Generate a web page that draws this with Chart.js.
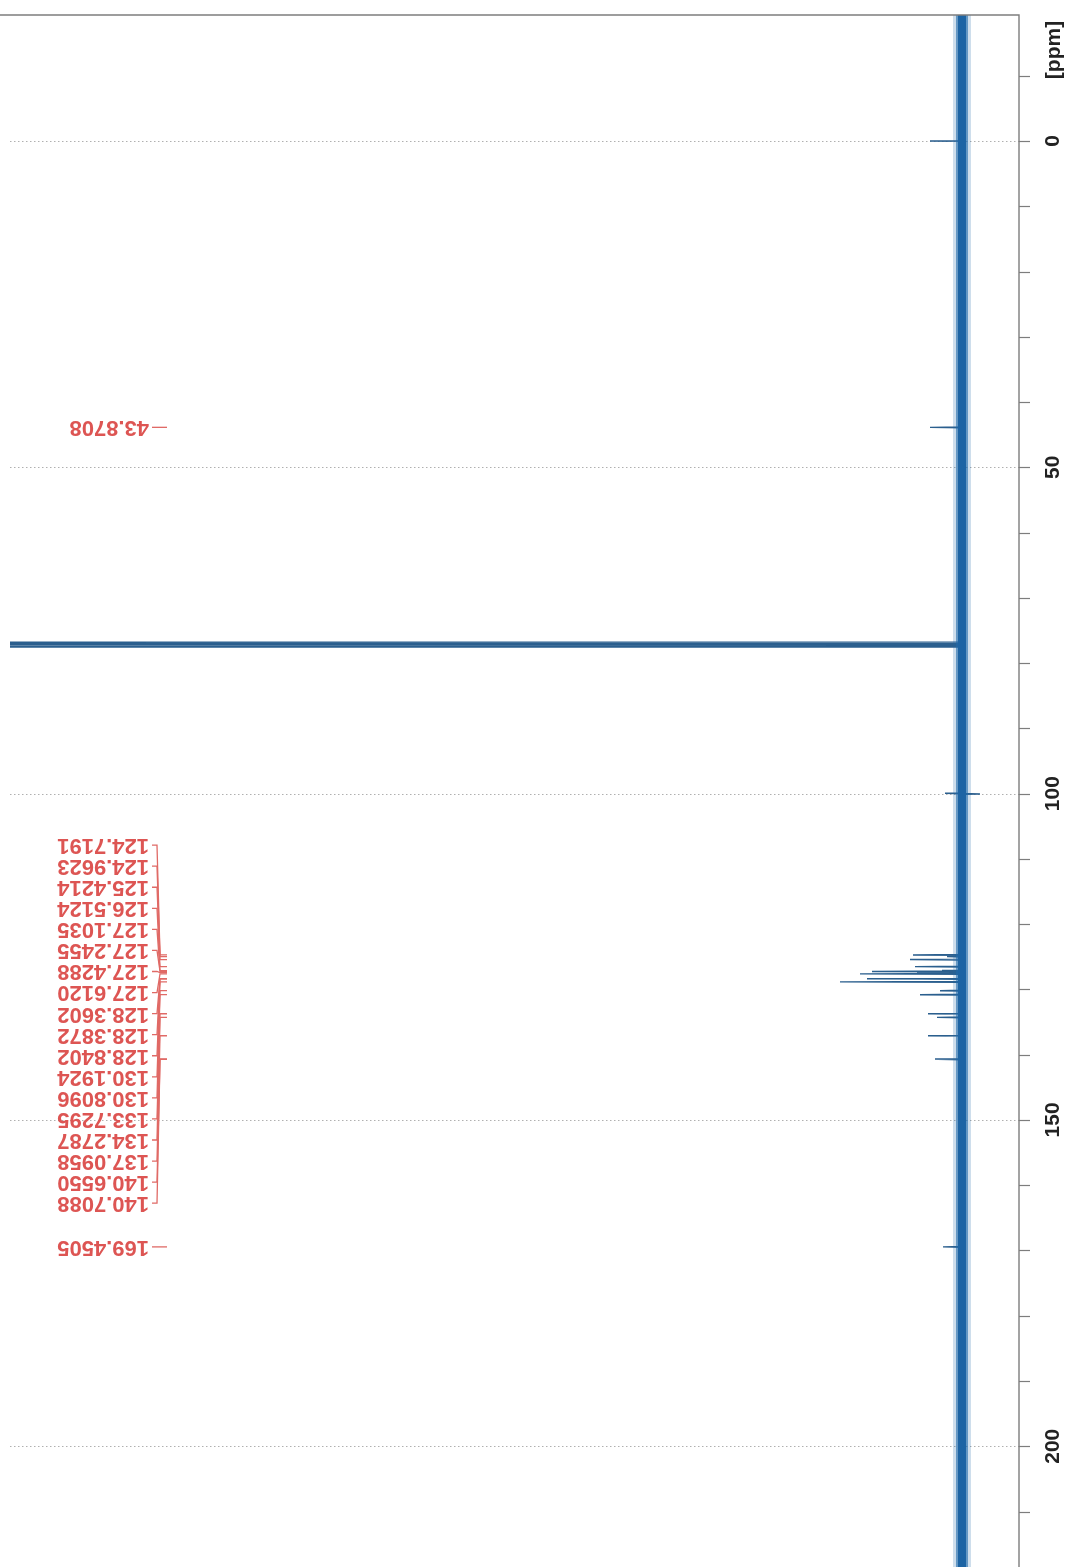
<!DOCTYPE html>
<html>
<head>
<meta charset="utf-8">
<title>13C NMR spectrum</title>
<script src="https://cdn.jsdelivr.net/npm/chart.js@4.4.1/dist/chart.umd.min.js"></script>
<style>
  html, body { margin: 0; padding: 0; background: #ffffff; }
  #wrap { width: 1072px; height: 1567px; }
  canvas { display: block; }
</style>
</head>
<body>
<div id="wrap"><canvas id="spec" width="1072" height="1567"></canvas></div>
<script>
// Picked peaks: chemical shift (ppm) and peak height (intensity units)
const pickedShifts = [43.8708, 124.7191, 124.9623, 125.4214, 126.5124, 127.1035, 127.2455,
  127.4288, 127.6120, 128.3602, 128.3872, 128.8402, 130.1924, 130.8096, 133.7295,
  134.2787, 137.0958, 140.6550, 140.7088, 169.4505];
const pickedHeights = [32, 49, 15, 52, 47, 20, 90, 45, 102, 95, 80, 122, 22, 42, 34, 25, 34, 27, 24, 19];

// Unlabelled signals: TMS reference, CDCl3 triplet, spike near 100 ppm
const otherShifts = [0.0, 76.84, 77.16, 77.48, 99.95, 100.05];
const otherHeights = [32, 3000, 3000, 3000, 17, -18];

// Axis ticks (ppm)
const majorTicks = [0, 50, 100, 150, 200];
const tickLabels = ['0', '50', '100', '150', '200'];
const axisTitle = '[ppm]';

// Displayed ppm window and intensity window
const ppmRange = [-19.31, 218.5];
const intensityRange = [-57, 952];
// Baseline noise half-amplitudes (intensity units): dense core, mid and sparse outer spikes
const noiseCore = 4;
const noiseMid = 6;
const noiseOuter = 9;

// ---- build the spectrum trace from the peak list ----
const peaks = pickedShifts.map((p, i) => ({ ppm: p, h: pickedHeights[i] }))
  .concat(otherShifts.map((p, i) => ({ ppm: p, h: otherHeights[i] })))
  .sort((a, b) => a.ppm - b.ppm);

const HALF_WIDTH = 0.06; // ppm, half line width of each stick peak
const trace = [{ x: 0, y: ppmRange[0] - 1 }];
peaks.forEach(pk => {
  trace.push({ x: 0, y: pk.ppm - HALF_WIDTH });
  trace.push({ x: pk.h, y: pk.ppm });
  trace.push({ x: 0, y: pk.ppm + HALF_WIDTH });
});
trace.push({ x: 0, y: ppmRange[1] + 1 });

const baselineSpan = [{ x: 0, y: ppmRange[0] - 1 }, { x: 0, y: ppmRange[1] + 1 }];

const LABEL_RED = '#dd5553';
const LEADER_RED = '#e06a66';
const AXIS_GREY = '#7d7d7d';

// Frame, ticks, grid and peak annotations drawn with the chart's own scales
const frame = {
  id: 'ppmFrame',
  beforeDraw(chart) {
    const ctx = chart.ctx;
    ctx.save();
    ctx.fillStyle = '#ffffff';
    ctx.fillRect(0, 0, chart.width, chart.height);
    ctx.restore();
  },
  beforeDatasetsDraw(chart) {
    const { ctx, chartArea: a, scales: { y } } = chart;
    ctx.save();
    ctx.strokeStyle = '#b0b0b0';
    ctx.lineWidth = 1;
    ctx.setLineDash([1.5, 2.5]);
    majorTicks.forEach(v => {
      const py = Math.round(y.getPixelForValue(v)) + 0.5;
      ctx.beginPath();
      ctx.moveTo(a.left, py);
      ctx.lineTo(a.right, py);
      ctx.stroke();
    });
    ctx.restore();
  },
  afterDatasetsDraw(chart) {
    const { ctx, chartArea: a, scales: { y } } = chart;
    ctx.save();
    // top border and ppm axis line
    ctx.strokeStyle = AXIS_GREY;
    ctx.lineWidth = 1.4;
    ctx.beginPath();
    ctx.moveTo(a.left - 10, a.top);
    ctx.lineTo(a.right, a.top);
    ctx.lineTo(a.right, a.bottom);
    ctx.stroke();

    // minor ticks every 10 ppm
    ctx.lineWidth = 1.2;
    for (let v = Math.ceil(ppmRange[0] / 10) * 10; v <= ppmRange[1]; v += 10) {
      const py = Math.round(y.getPixelForValue(v)) + 0.5;
      ctx.beginPath();
      ctx.moveTo(a.right, py);
      ctx.lineTo(a.right + 11, py);
      ctx.stroke();
    }

    // tick labels, reading bottom to top
    ctx.fillStyle = '#222222';
    ctx.font = 'bold 21px "Liberation Sans", Arial, sans-serif';
    ctx.textAlign = 'center';
    ctx.textBaseline = 'middle';
    majorTicks.forEach((v, i) => {
      const py = y.getPixelForValue(v);
      ctx.save();
      ctx.translate(a.right + 34, py);
      ctx.rotate(-Math.PI / 2);
      ctx.fillText(tickLabels[i], 0, 0);
      ctx.restore();
    });
    ctx.save();
    ctx.translate(a.right + 35, a.top + 35);
    ctx.rotate(-Math.PI / 2);
    ctx.fillText(axisTitle, 0, 0);
    ctx.restore();

    // peak labels: the aromatic group is stacked, the rest sit at their own shift
    const STACK_TOP_PPM = 107.89;
    const STACK_STEP = 21.06;
    const stackTop = y.getPixelForValue(STACK_TOP_PPM);
    let k = 0;
    const TEXT_RIGHT = a.left + 139;
    ctx.font = 'bold 22px "Liberation Sans", Arial, sans-serif';
    pickedShifts.forEach(p => {
      const yp = y.getPixelForValue(p);
      let yl = yp;
      if (p > 120 && p < 145) { yl = stackTop + k * STACK_STEP; k++; }
      // leader line
      ctx.strokeStyle = LEADER_RED;
      ctx.lineWidth = 1.3;
      ctx.beginPath();
      ctx.moveTo(TEXT_RIGHT + 3, yl);
      ctx.lineTo(TEXT_RIGHT + 8, yl);
      ctx.lineTo(TEXT_RIGHT + 11, yp);
      ctx.lineTo(TEXT_RIGHT + 18, yp);
      ctx.stroke();
      // label text, turned upside down
      ctx.save();
      ctx.translate(TEXT_RIGHT, yl);
      ctx.rotate(Math.PI);
      ctx.fillStyle = LABEL_RED;
      ctx.textAlign = 'left';
      ctx.textBaseline = 'middle';
      ctx.fillText(p.toFixed(4), 0, 0);
      ctx.restore();
    });
    ctx.restore();
  }
};

new Chart(document.getElementById('spec'), {
  type: 'scatter',
  data: {
    datasets: [
      { data: baselineSpan, showLine: true, borderColor: '#1d64a4', borderWidth: noiseCore * 2,
        pointRadius: 0, borderCapStyle: 'butt' },
      { data: baselineSpan, showLine: true, borderColor: 'rgba(31,105,170,0.6)', borderWidth: noiseMid * 2,
        pointRadius: 0, borderCapStyle: 'butt' },
      { data: baselineSpan, showLine: true, borderColor: 'rgba(31,105,170,0.22)', borderWidth: noiseOuter * 2,
        pointRadius: 0, borderCapStyle: 'butt' },
      { data: trace, showLine: true, borderColor: '#2b5f8e', borderWidth: 1.4,
        pointRadius: 0, tension: 0 }
    ]
  },
  options: {
    responsive: false,
    animation: false,
    devicePixelRatio: 1,
    layout: { padding: { left: 10, right: 53, top: 15, bottom: 0 } },
    plugins: { legend: { display: false }, tooltip: { enabled: false } },
    scales: {
      x: { type: 'linear', display: false, reverse: true,
           min: intensityRange[0], max: intensityRange[1] },
      y: { type: 'linear', display: false, reverse: true,
           min: ppmRange[0], max: ppmRange[1] }
    }
  },
  plugins: [frame]
});
</script>
</body>
</html>
